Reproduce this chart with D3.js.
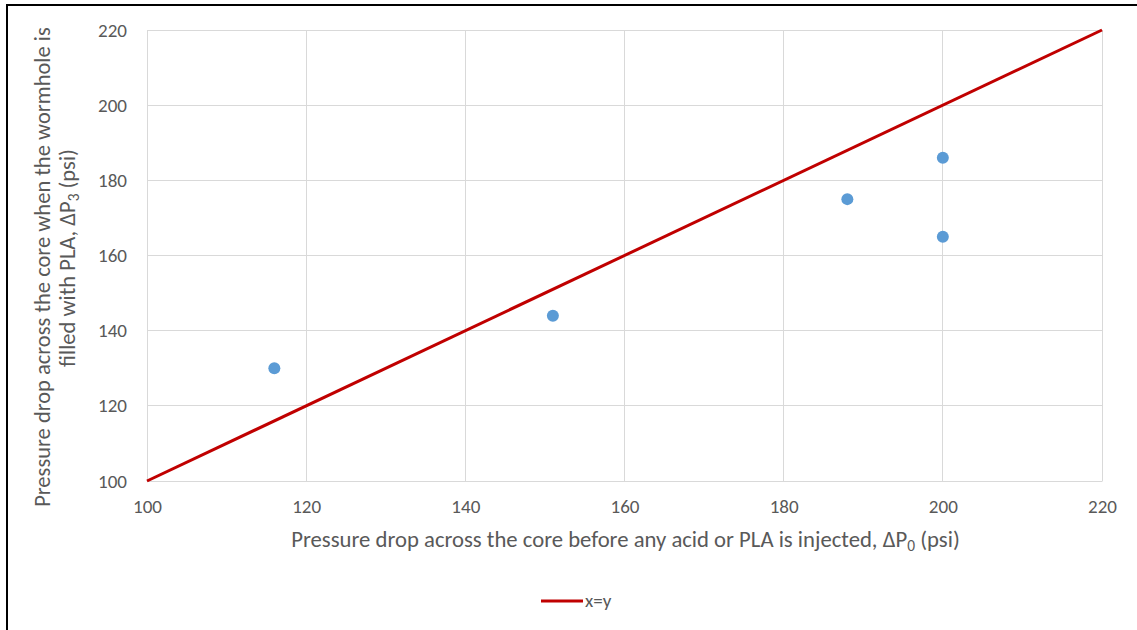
<!DOCTYPE html>
<html><head><meta charset="utf-8">
<script src="https://cdn.jsdelivr.net/npm/d3@7"></script>
<style>body{margin:0;background:#fff;} svg{display:block;}</style>
</head><body>
<svg id="c" width="1137" height="630"></svg>
<script>
const xValues = [116, 151, 188, 200, 200];
const yValues = [130, 144, 175, 186, 165];
const lineX = [100, 220];
const lineY = [100, 220];
const xTicks = [100, 120, 140, 160, 180, 200, 220];
const yTicks = [100, 120, 140, 160, 180, 200, 220];
const legendLabel = "x=y";

const svg = d3.select("#c");
const font = "Carlito, 'Open Sans', Lato, sans-serif";
const textCol = "#595959";
const m = {l:147, r:1102, t:30, b:481};
const x = d3.scaleLinear().domain([100,220]).range([m.l, m.r]);
const y = d3.scaleLinear().domain([100,220]).range([m.b, m.t]);

// fit a text element's font size so its width matches target
function fit(node, target){
  const base = parseFloat(node.style.fontSize);
  const w = node.getComputedTextLength();
  const s = base * target / w;
  node.style.fontSize = s + "px";
  d3.select(node).selectAll("tspan.sub").style("font-size", (s*0.68)+"px");
  return s;
}

// frame
svg.append("line").attr("x1",7).attr("x2",7).attr("y1",4).attr("y2",630).attr("stroke","#000").attr("stroke-width",2);
svg.append("line").attr("x1",6).attr("x2",1137).attr("y1",5).attr("y2",5).attr("stroke","#000").attr("stroke-width",2);

// grid
svg.append("g").selectAll("line").data(xTicks).join("line")
  .attr("x1",d=>x(d)).attr("x2",d=>x(d)).attr("y1",m.t).attr("y2",m.b)
  .attr("stroke","#d9d9d9").attr("stroke-width",1).attr("shape-rendering","crispEdges");
svg.append("g").selectAll("line").data(yTicks).join("line")
  .attr("x1",m.l).attr("x2",m.r).attr("y1",d=>y(d)).attr("y2",d=>y(d))
  .attr("stroke","#d9d9d9").attr("stroke-width",1).attr("shape-rendering","crispEdges");

// tick font size: fit "100" to ~29px
const probe = svg.append("text").style("font-family",font).style("font-size","16px").text("100");
const tickSize = fit(probe.node(), 29);
probe.remove();

// axes
const xa = svg.append("g").attr("transform",`translate(0,${m.b})`)
  .call(d3.axisBottom(x).tickValues(xTicks).tickSize(0).tickPadding(18));
const ya = svg.append("g").attr("transform",`translate(${m.l},0)`)
  .call(d3.axisLeft(y).tickValues(yTicks).tickSize(0).tickPadding(20));
[xa,ya].forEach(a=>{
  a.select(".domain").attr("stroke","#d9d9d9");
  a.selectAll("text").attr("fill",textCol).style("font-family",font).style("font-size",tickSize+"px");
});
xa.selectAll("text").attr("dy",null).attr("y",32);
ya.selectAll("text").attr("dy",null).attr("y",6);

// x=y line
svg.append("path").datum(lineX.map((d,i)=>[d,lineY[i]]))
  .attr("d", d3.line().x(d=>x(d[0])).y(d=>y(d[1])))
  .attr("fill","none").attr("stroke","#c00000").attr("stroke-width",3);

// points
svg.append("g").selectAll("circle").data(xValues.map((d,i)=>[d,yValues[i]])).join("circle")
  .attr("cx",d=>x(d[0])).attr("cy",d=>y(d[1])).attr("r",6).attr("fill","#5b9bd5");

// x title
const xt = svg.append("text").attr("x",625.5).attr("y",547).attr("text-anchor","middle")
  .attr("fill",textCol).style("font-family",font).style("font-size","18px");
xt.append("tspan").text("Pressure drop across the core before any acid or PLA is injected, ΔP");
xt.append("tspan").attr("class","sub").attr("dy",4).style("font-size","12px").text("0");
xt.append("tspan").attr("dy",-4).text(" (psi)");
fit(xt.node(), 669);

// y title
const yt = svg.append("g").attr("transform","rotate(-90)");
const yt1 = yt.append("text").attr("x",-267).attr("y",50).attr("text-anchor","middle")
  .attr("fill",textCol).style("font-family",font).style("font-size","18px")
  .text("Pressure drop across the core when the wormhole is");
const ys = fit(yt1.node(), 480);
const yt2 = yt.append("text").attr("x",-258).attr("y",75).attr("text-anchor","middle")
  .attr("fill",textCol).style("font-family",font).style("font-size",ys+"px");
yt2.append("tspan").text("filled with PLA, ΔP");
yt2.append("tspan").attr("class","sub").attr("dy",4).style("font-size",(ys*0.68)+"px").text("3");
yt2.append("tspan").attr("dy",-4).text("  (psi)");

// legend
svg.append("line").attr("x1",541).attr("x2",583).attr("y1",601).attr("y2",601)
  .attr("stroke","#c00000").attr("stroke-width",3);
svg.append("text").attr("x",585).attr("y",607).attr("fill",textCol)
  .style("font-family",font).style("font-size",tickSize+"px").text(legendLabel);
</script>
</body></html>
